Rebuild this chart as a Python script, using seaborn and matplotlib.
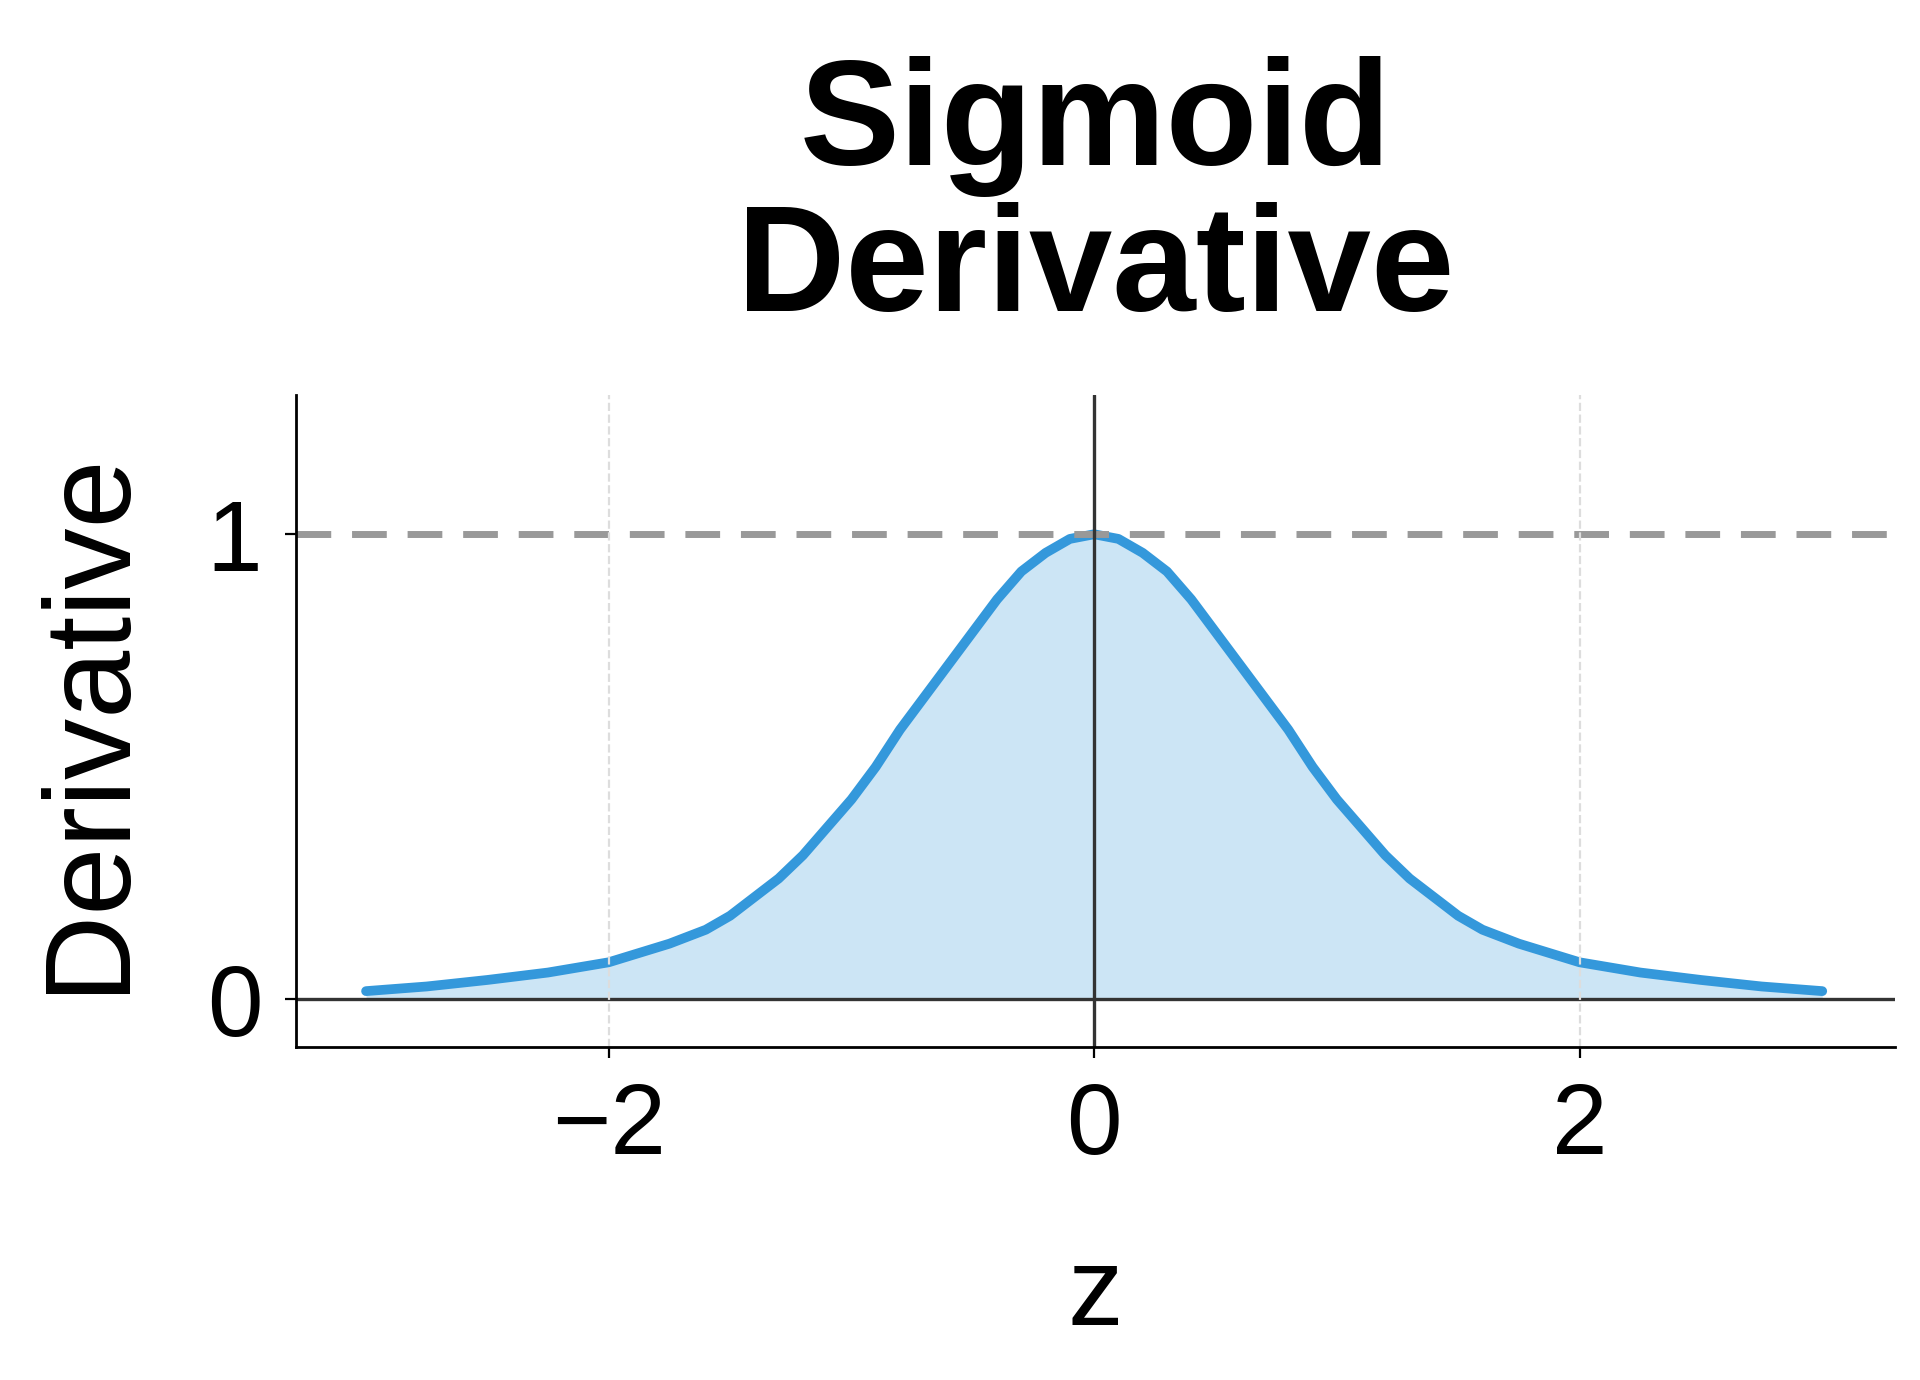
import matplotlib
matplotlib.use("Agg")
import matplotlib.pyplot as plt
import seaborn as sns
import pandas as pd

z_pos = [0.0, 0.1, 0.2, 0.3, 0.4, 0.5, 0.6, 0.7, 0.8, 0.9, 1.0, 1.1, 1.2, 1.3,
         1.4, 1.5, 1.6, 1.75, 2.0, 2.25, 2.5, 2.75, 3.0]
d_pos = [1.0, 0.99, 0.96, 0.92, 0.86, 0.79, 0.72, 0.65, 0.58, 0.50, 0.43, 0.37,
         0.31, 0.26, 0.22, 0.18, 0.15, 0.12, 0.08, 0.058, 0.042, 0.028, 0.018]
z = [-v for v in z_pos[:0:-1]] + z_pos
deriv = d_pos[:0:-1] + d_pos
xticks = [-2, 0, 2]
yticks = [0, 1]

sns.set_style("white")
plt.rcParams['font.family'] = ['Liberation Sans', 'DejaVu Sans']
plt.rcParams['text.color'] = 'black'
plt.rcParams['axes.labelcolor'] = 'black'
df = pd.DataFrame({"z": z, "d": deriv})

fig = plt.figure(figsize=(9.6, 6.9), dpi=200)
ax = fig.add_axes([0.154, 0.241, 0.833, 0.473])
ax.fill_between(df["z"], df["d"], color="#3498db", alpha=0.25, lw=0)
sns.lineplot(data=df, x="z", y="d", ax=ax, color="#3498db", lw=3.5)
ax.axhline(1, color="#999999", ls="--", lw=2.5, dashes=(5, 3))
ax.axhline(0, color="#333333", lw=1.2)
ax.axvline(0, color="#333333", lw=1.2)
for t in [-2, 2]:
    ax.axvline(t, color="#dddddd", ls="--", lw=0.8)
ax.set_xlim(-3.29, 3.30)
ax.set_ylim(-0.103, 1.30)
ax.set_xticks(xticks)
ax.set_xticklabels(["\u22122", "0", "2"])
ax.set_yticks(yticks)
ax.tick_params(labelsize=36, length=4, width=0.8, colors="black", left=True, bottom=True, pad=8)
for s in ["top", "right"]:
    ax.spines[s].set_visible(False)
for s in ["left", "bottom"]:
    ax.spines[s].set_color("black")
    ax.spines[s].set_linewidth(1)
ax.set_xlabel("z", fontsize=40, labelpad=25)
ax.set_ylabel("Derivative", fontsize=44, labelpad=22)
ax.set_title("Sigmoid\nDerivative", fontsize=54, fontweight="bold", pad=30,
             linespacing=1.05, color="black")
fig.savefig("out.png", dpi=200)
